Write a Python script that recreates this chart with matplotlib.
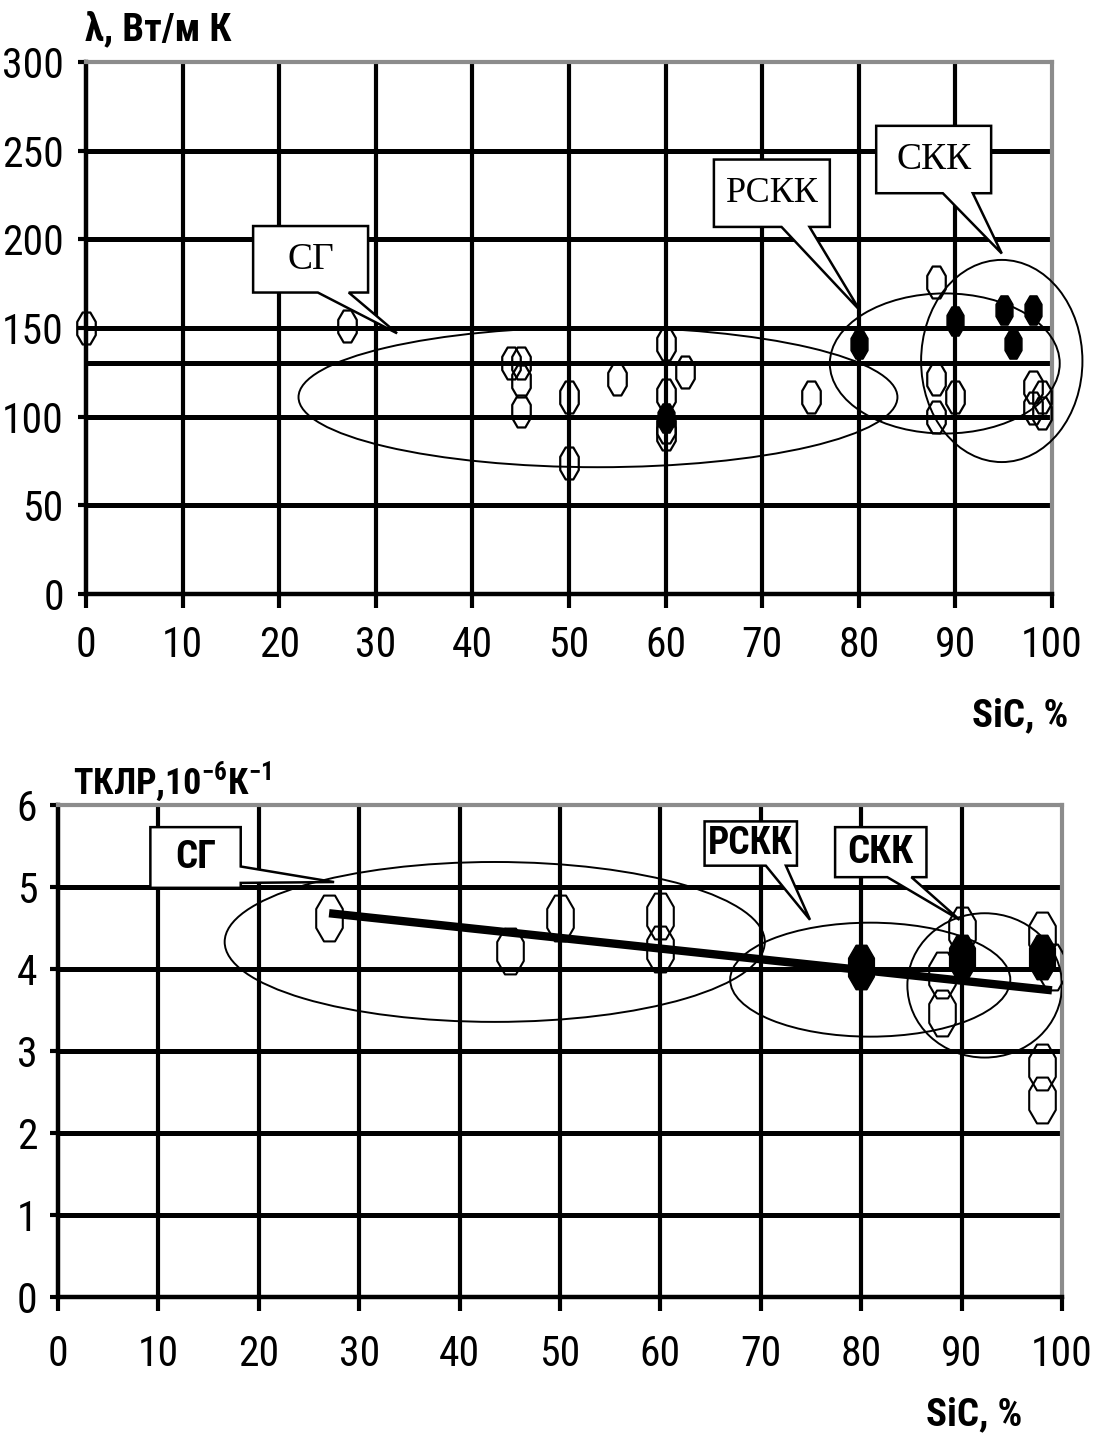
import matplotlib
matplotlib.use("Agg")
import matplotlib.pyplot as plt
import numpy as np
from matplotlib.path import Path
from matplotlib.patches import Ellipse, Polygon

# ---- data: thermal conductivity vs SiC content (top panel)
lam_open_x = [0, 27, 44, 45, 45, 45, 50, 50, 55, 60, 60, 60, 60, 62, 75, 88, 88, 88, 90, 98, 99, 98, 99]
lam_open_y = [150, 151, 130, 130, 120, 103, 111, 74, 121, 141, 112, 94, 90, 125, 111, 176, 121, 100, 111, 117, 111, 105, 102]
lam_fill_x = [60, 80, 90, 95, 96, 98]
lam_fill_y = [99, 141, 154, 160, 141, 160]

# ---- data: thermal expansion coefficient vs SiC content (bottom panel)
tec_open_x = [27, 45, 50, 60, 60, 88, 88, 90, 98, 98, 98, 99]
tec_open_y = [4.62, 4.22, 4.62, 4.65, 4.24, 3.93, 3.46, 4.47, 4.41, 2.8, 2.4, 4.02]
tec_fill_x = [80, 90, 98]
tec_fill_y = [4.02, 4.15, 4.15]
trend_x = [27, 99]
trend_y = [4.68, 3.74]

x_ticks = list(range(0, 101, 10))
lam_ticks = list(range(0, 301, 50))
tec_ticks = list(range(0, 7))

W, H = 1096, 1437
SANS = ['Roboto Condensed', 'Liberation Sans', 'DejaVu Sans']
SERIF = ['Liberation Serif', 'DejaVu Serif']
GREY = '#8c8c8c'
plt.rcParams['mathtext.fontset'] = 'custom'
plt.rcParams['mathtext.rm'] = 'Roboto Condensed'
plt.rcParams['mathtext.bf'] = 'Roboto Condensed:bold'

# tall octagon marker like the scanned picture
ang = np.deg2rad(np.arange(22.5, 360, 45))
verts = np.c_[0.58 * np.cos(ang), np.sin(ang)]
verts = np.vstack([verts, verts[:1]])
octa = Path(verts, [Path.MOVETO] + [Path.LINETO] * (len(ang) - 1) + [Path.CLOSEPOLY])

fig = plt.figure(figsize=(W / 100, H / 100), dpi=100)
fig.patch.set_facecolor('white')


def px_axes(left, top, right, bottom):
    return fig.add_axes([left / W, 1 - bottom / H, (right - left) / W, (bottom - top) / H])


def style_axes(ax, ymax, ygrid, xpad, ypad):
    ax.set_xlim(0, 100)
    ax.set_ylim(0, ymax)
    for y in ygrid:
        ax.axhline(y, color='black', lw=3.6, zorder=1)
    for x in x_ticks[1:-1]:
        ax.axvline(x, color='black', lw=3.0, zorder=1)
    for s in ['top', 'right']:
        ax.spines[s].set_color(GREY)
        ax.spines[s].set_linewidth(3)
    for s in ['left', 'bottom']:
        ax.spines[s].set_color('black')
        ax.spines[s].set_linewidth(3.2)
    ax.tick_params(axis='x', direction='out', length=10, width=3, pad=xpad)
    ax.tick_params(axis='y', direction='out', length=6, width=3, pad=ypad)
    for lab in ax.get_xticklabels() + ax.get_yticklabels():
        lab.set_family(SANS)
        lab.set_fontsize(30)


def callout(ax, box, wedge, tip, label, font, weight, size, side='bottom'):
    x0, y0, x1, y1 = box
    if side == 'bottom':
        pts = [(x0, y0), (wedge[0], y0), tip, (wedge[1], y0), (x1, y0), (x1, y1), (x0, y1)]
    else:
        pts = [(x0, y0), (x1, y0), (x1, wedge[0]), tip, (x1, wedge[1]), (x1, y1), (x0, y1)]
    ax.add_patch(Polygon(pts, closed=True, facecolor='white', edgecolor='black', lw=1.8, zorder=6))
    ax.text((x0 + x1) / 2, (y0 + y1) / 2, label, ha='center', va='center', family=font,
            fontweight=weight, fontsize=size, zorder=7)


# ---------------- top panel
ax1 = px_axes(86, 62, 1052, 594)
ax1.set_xticks(x_ticks)
ax1.set_yticks(lam_ticks)
style_axes(ax1, 300, [50, 100, 130, 150, 200, 250], 12, 10)
ax1.plot(lam_open_x, lam_open_y, ls='none', marker=octa, ms=23, mfc='none', mec='black', mew=1.6,
         zorder=4, clip_on=False)
ax1.plot(lam_fill_x, lam_fill_y, ls='none', marker=octa, ms=21, mfc='black', mec='black', mew=1,
         zorder=4)
for cx, cy, w, h in [(53, 111, 62, 79), (88.9, 130, 23.8, 79), (94.8, 131.4, 16.7, 114)]:
    ax1.add_patch(Ellipse((cx, cy), w, h, fill=False, ec='black', lw=1.4, zorder=3, clip_on=False))
callout(ax1, (17.3, 170, 29.2, 207.5), (24.0, 27.2), (32.2, 147), 'СГ', SERIF, 'normal', 27)
callout(ax1, (65.0, 207, 77.0, 245), (72.0, 74.9), (80.1, 160), 'РСКК', SERIF, 'normal', 26)
callout(ax1, (81.8, 226, 93.7, 264), (88.7, 91.8), (94.8, 192), 'СКК', SERIF, 'normal', 27)

fig.text(85 / W, 1 - 30 / H, 'λ, Вт/м К', family=SANS, fontweight='bold', fontsize=28,
         ha='left', va='center')
fig.text(1068 / W, 1 - 716 / H, 'SiC, %', family=SANS, fontweight='bold', fontsize=28,
         ha='right', va='center')

# ---------------- bottom panel
ax2 = px_axes(58, 805, 1062, 1297)
ax2.set_xticks(x_ticks)
ax2.set_yticks(tec_ticks)
style_axes(ax2, 6, [1, 2, 3, 4, 5], 17, 9)
for cx, cy, w, h in [(43.5, 4.33, 53.8, 1.95), (80.9, 3.87, 27.9, 1.39), (92.3, 3.8, 15.4, 1.76)]:
    ax2.add_patch(Ellipse((cx, cy), w, h, fill=False, ec='black', lw=1.4, zorder=3))
ax2.plot(tec_open_x, tec_open_y, ls='none', marker=octa, ms=33, mfc='none', mec='black', mew=1.5,
         zorder=4)
ax2.plot(tec_fill_x, tec_fill_y, ls='none', marker=octa, ms=32, mfc='black', mec='black', mew=1,
         zorder=4)
ax2.plot(trend_x, trend_y, color='black', lw=6, solid_capstyle='butt', zorder=5)
callout(ax2, (9.2, 4.99, 18.2, 5.73), (5.05, 5.25), (27.5, 5.06), 'СГ', SANS, 'bold', 28, side='right')
callout(ax2, (64.4, 5.26, 73.6, 5.80), (70.5, 72.5), (74.9, 4.6), 'РСКК', SANS, 'bold', 27)
callout(ax2, (77.4, 5.12, 86.5, 5.73), (82.6, 85.0), (89.8, 4.6), 'СКК', SANS, 'bold', 28)

fig.text(73 / W, 1 - 782 / H, r'ТКЛР,10$^{\mathbf{-6}}$К$^{\mathbf{-1}}$', family=SANS,
         fontweight='bold', fontsize=26, ha='left', va='center')
fig.text(1022 / W, 1 - 1415 / H, 'SiC, %', family=SANS, fontweight='bold', fontsize=28,
         ha='right', va='center')

fig.savefig('out.png', dpi=100, facecolor='white')
